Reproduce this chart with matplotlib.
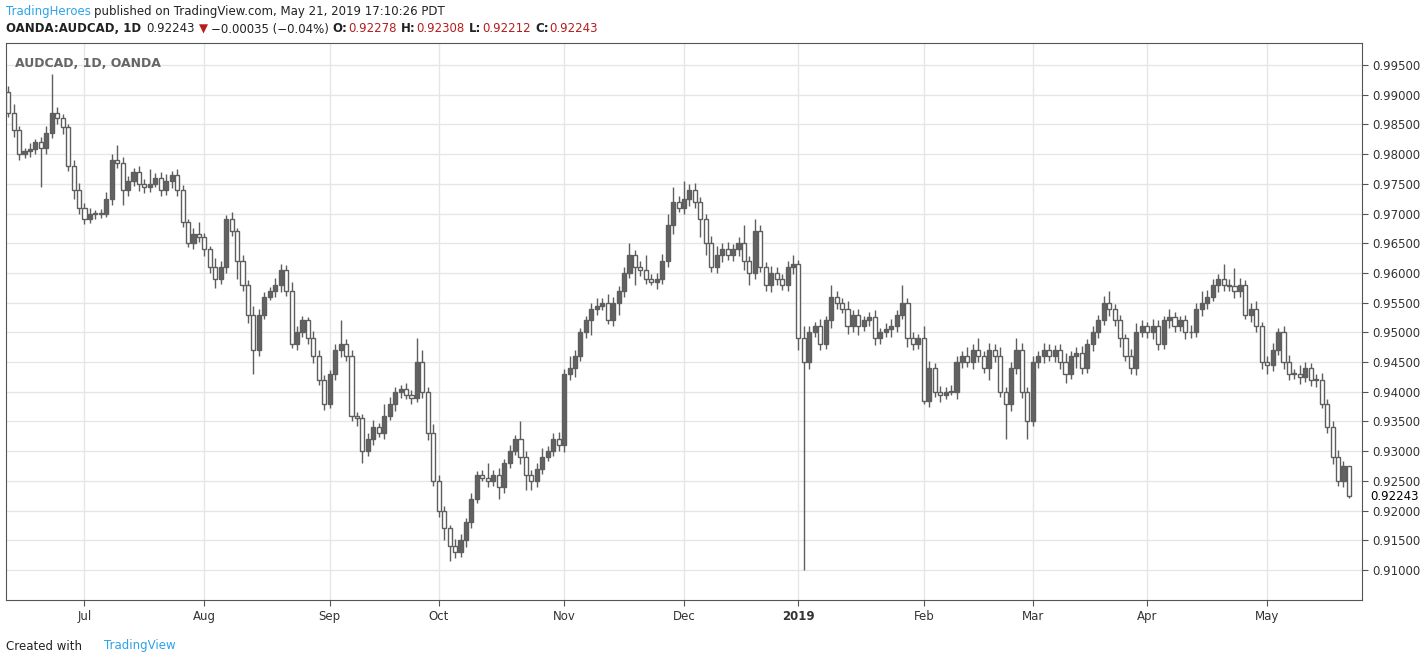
import pandas as pd
import matplotlib.pyplot as plt
import numpy as np

# AUDCAD daily closes (open = previous close)
first_open = 0.9905
closes = [
    0.9870, 0.9840, 0.9800, 0.9805, 0.9808, 0.9820, 0.9810, 0.9835, 0.9870, 0.9860,
    0.9845, 0.9780, 0.9740, 0.9710, 0.9690, 0.9700, 0.9700, 0.9700, 0.9725, 0.9790,
    0.9785, 0.9740, 0.9755, 0.9770, 0.9750, 0.9745, 0.9750, 0.9760, 0.9740, 0.9755,
    0.9765, 0.9740, 0.9685, 0.9650, 0.9665, 0.9660, 0.9640, 0.9610, 0.9590, 0.9610,
    0.9690, 0.9670, 0.9620, 0.9580, 0.9530, 0.9470, 0.9530, 0.9560, 0.9570, 0.9580,
    0.9605, 0.9570, 0.9480, 0.9500, 0.9520, 0.9490, 0.9460, 0.9420, 0.9380, 0.9430,
    0.9470, 0.9480, 0.9460, 0.9360, 0.9355, 0.9300, 0.9320, 0.9340, 0.9330, 0.9360,
    0.9380, 0.9400, 0.9405, 0.9395, 0.9390, 0.9450, 0.9400, 0.9330, 0.9250, 0.9200,
    0.9170, 0.9140, 0.9130, 0.9150, 0.9180, 0.9220, 0.9260, 0.9255, 0.9250, 0.9260,
    0.9240, 0.9280, 0.9300, 0.9320, 0.9290, 0.9260, 0.9250, 0.9270, 0.9290, 0.9300,
    0.9320, 0.9310, 0.9430, 0.9440, 0.9460, 0.9500, 0.9520, 0.9540, 0.9545, 0.9550,
    0.9520, 0.9550, 0.9570, 0.9600, 0.9630, 0.9610, 0.9605, 0.9590, 0.9585, 0.9590,
    0.9620, 0.9680, 0.9720, 0.9710, 0.9725, 0.9740, 0.9720, 0.9690, 0.9650, 0.9610,
    0.9630, 0.9640, 0.9630, 0.9640, 0.9650, 0.9620, 0.9600, 0.9670, 0.9610, 0.9580,
    0.9600, 0.9590, 0.9580, 0.9610, 0.9615, 0.9490, 0.9450, 0.9500, 0.9510, 0.9480,
    0.9520, 0.9560, 0.9550, 0.9540, 0.9510, 0.9530, 0.9510, 0.9520, 0.9525, 0.9490,
    0.9500, 0.9505, 0.9510, 0.9530, 0.9550, 0.9490, 0.9480, 0.9490, 0.9385, 0.9440,
    0.9400, 0.9395, 0.9400, 0.9400, 0.9450, 0.9460, 0.9450, 0.9470, 0.9460, 0.9440,
    0.9470, 0.9460, 0.9400, 0.9380, 0.9440, 0.9470, 0.9400, 0.9350, 0.9450, 0.9460,
    0.9470, 0.9460, 0.9470, 0.9450, 0.9430, 0.9460, 0.9465, 0.9440, 0.9480, 0.9500,
    0.9520, 0.9550, 0.9540, 0.9520, 0.9490, 0.9460, 0.9440, 0.9500, 0.9510, 0.9500,
    0.9510, 0.9480, 0.9520, 0.9525, 0.9510, 0.9520, 0.9500, 0.9500, 0.9540, 0.9550,
    0.9560, 0.9580, 0.9590, 0.9580, 0.9578, 0.9570, 0.9580, 0.9530, 0.9540, 0.9510,
    0.9450, 0.9445, 0.9470, 0.9500, 0.9450, 0.9430, 0.9430, 0.9425, 0.9440, 0.9420,
    0.9420, 0.9380, 0.9340, 0.9290, 0.9250, 0.9275, 0.92243,
]
# wick lengths in pips (0.0001) above the body and below it
wick_up = [
    10, 15, 8, 5, 10, 6, 8, 12, 65, 10, 8, 6, 10, 12, 8, 10, 6, 8, 12, 10,
    25, 10, 8, 6, 10, 8, 25, 8, 10, 12, 6, 10, 8, 6, 10, 20, 8, 6, 15, 10,
    8, 12, 6, 10, 8, 15, 10, 8, 6, 12, 10, 8, 15, 10, 8, 6, 12, 10, 8, 6,
    10, 40, 8, 10, 6, 8, 10, 12, 8, 20, 12, 8, 6, 10, 8, 40, 20, 8, 15, 10,
    8, 6, 12, 10, 8, 10, 6, 8, 25, 8, 12, 6, 10, 8, 30, 10, 8, 10, 15, 8,
    10, 12, 8, 20, 10, 8, 8, 10, 12, 8, 15, 10, 8, 10, 20, 8, 10, 25, 8, 10,
    12, 20, 25, 10, 30, 10, 12, 8, 10, 12, 15, 10, 12, 8, 10, 30, 8, 20, 10, 8,
    12, 10, 8, 10, 15, 6, 20, 10, 8, 12, 8, 20, 10, 8, 12, 8, 10, 8, 10, 12,
    8, 10, 12, 8, 30, 8, 10, 8, 20, 12, 8, 10, 8, 12, 10, 8, 15, 10, 20, 8,
    12, 10, 15, 8, 10, 20, 12, 8, 10, 8, 12, 10, 8, 10, 15, 8, 10, 12, 8, 10,
    10, 12, 20, 8, 10, 8, 12, 15, 10, 8, 12, 10, 8, 15, 10, 8, 10, 12, 10, 20,
    12, 10, 8, 25, 10, 30, 12, 8, 10, 12, 8, 10, 12, 8, 10, 12, 8, 15, 10, 8,
    10, 12, 8, 10, 12, 8, 10,
]
wick_dn = [
    8, 12, 10, 6, 10, 8, 65, 10, 8, 10, 12, 8, 15, 10, 8, 6, 10, 8, 6, 10,
    8, 25, 10, 8, 12, 10, 8, 6, 10, 8, 12, 10, 8, 6, 10, 8, 12, 10, 15, 8,
    10, 8, 30, 10, 15, 40, 10, 8, 6, 10, 12, 8, 6, 10, 8, 10, 12, 8, 10, 8,
    10, 12, 8, 10, 12, 20, 8, 10, 6, 10, 8, 12, 10, 8, 10, 8, 10, 12, 8, 10,
    20, 25, 10, 8, 12, 10, 8, 6, 10, 8, 20, 10, 8, 6, 12, 25, 15, 10, 8, 6,
    8, 10, 12, 10, 15, 8, 10, 25, 10, 8, 6, 10, 20, 10, 8, 30, 10, 8, 6, 12,
    8, 10, 15, 8, 10, 12, 10, 30, 20, 8, 10, 12, 8, 10, 12, 15, 20, 10, 8, 10,
    12, 10, 8, 10, 12, 20, 350, 12, 8, 10, 8, 12, 10, 8, 12, 10, 15, 8, 10, 12,
    10, 8, 12, 10, 8, 15, 10, 8, 6, 10, 8, 12, 8, 6, 12, 10, 8, 12, 10, 8,
    20, 10, 8, 60, 12, 10, 10, 30, 8, 10, 12, 8, 10, 12, 15, 8, 20, 10, 8, 12,
    10, 8, 12, 10, 15, 8, 10, 12, 8, 10, 12, 10, 8, 12, 10, 8, 12, 10, 8, 12,
    10, 8, 12, 10, 8, 12, 10, 8, 12, 10, 12, 15, 10, 8, 12, 10, 8, 12, 8, 10,
    12, 8, 10, 12, 8, 10, 12,
]
month_names = ['Jul', 'Aug', 'Sep', 'Oct', 'Nov', 'Dec', '2019', 'Feb', 'Mar', 'Apr', 'May']
price_ticks = [0.910, 0.915, 0.920, 0.925, 0.930, 0.935, 0.940, 0.945, 0.950,
               0.955, 0.960, 0.965, 0.970, 0.975, 0.980, 0.985, 0.990, 0.995]
last_price = 0.92243
last_high, last_low = 0.92308, 0.92212

n = len(closes)
dates = pd.bdate_range('2018-06-12', periods=n)
opens = [first_open] + closes[:-1]
df = pd.DataFrame({'open': opens, 'close': closes}, index=dates)
body_top = df[['open', 'close']].max(axis=1).to_numpy()
body_bot = df[['open', 'close']].min(axis=1).to_numpy()
highs = body_top + np.array(wick_up[:n]) * 1e-4
lows = body_bot - np.array(wick_dn[:n]) * 1e-4
highs[-1], lows[-1] = last_high, last_low
df['high'] = highs
df['low'] = lows
idx = np.arange(n)

W, H = 1426, 664
fig = plt.figure(figsize=(W / 100, H / 100), dpi=100)
ax = fig.add_axes([6 / W, 1 - 600 / H, (1362 - 6) / W, (600 - 43) / H])

edge = '#5e5e5e'
ax.vlines(idx, df['low'], df['high'], color=edge, lw=1, zorder=2)
up = (df['close'] >= df['open']).to_numpy()
heights = np.clip(body_top - body_bot, 0.00012, None)
ax.bar(idx, heights, bottom=body_bot, width=0.75,
       color=np.where(up, '#626262', 'white'), edgecolor=edge, lw=1, zorder=3)

ax.set_xlim(-0.4, 248.4)
ax.set_ylim(0.90495, 0.9987)

# month ticks at the first bar of each month
month_pos = []
m = df.index.to_period('M')
for k in range(1, n):
    if m[k] != m[k - 1]:
        month_pos.append(k)
ax.set_xticks(month_pos)
ax.set_xticklabels(month_names[:len(month_pos)])
for lab in ax.get_xticklabels():
    if lab.get_text() == '2019':
        lab.set_fontweight('bold')

ax.yaxis.tick_right()
ax.set_yticks(price_ticks)
ax.set_yticklabels([f'{v:.5f}' for v in price_ticks])
ax.grid(True, color='#e6e6e6', lw=1)
ax.set_axisbelow(True)
ax.tick_params(axis='both', labelsize=8.5, colors='#333333', length=4, color='#555555')
for s in ax.spines.values():
    s.set_color('#555555')

ax.annotate(f'{last_price:.5f}', xy=(1, last_price), xycoords=('axes fraction', 'data'),
            xytext=(6, 0), textcoords='offset points', va='center', fontsize=8.5,
            color='black', bbox=dict(boxstyle='square,pad=0.2', fc='white', ec='none'))
ax.text(0.007, 0.975, 'AUDCAD, 1D, OANDA', transform=ax.transAxes, fontsize=9,
        fontweight='bold', color='#666666', va='top')

red = '#b71c1c'
dark = '#222222'
renderer = fig.canvas.get_renderer()

def text_run(x, y, pieces, size=8.5):
    # lay pieces out left to right, measuring each one
    for s, color, weight, gap in pieces:
        t = fig.text(x / W, 1 - y / H, s, va='center', fontsize=size,
                     color=color, fontweight=weight)
        x += t.get_window_extent(renderer).width + gap

text_run(6, 12, [('TradingHeroes', '#2ea2e8', 'normal', 3),
                 ('published on TradingView.com, May 21, 2019 17:10:26 PDT', dark, 'normal', 0)])
text_run(6, 29, [('OANDA:AUDCAD, 1D', dark, 'bold', 5),
                 ('0.92243', dark, 'normal', 4),
                 ('▼', red, 'normal', 3),
                 ('−0.00035 (−0.04%)', dark, 'normal', 4),
                 ('O:', dark, 'bold', 1), ('0.92278', red, 'normal', 4),
                 ('H:', dark, 'bold', 1), ('0.92308', red, 'normal', 4),
                 ('L:', dark, 'bold', 1), ('0.92212', red, 'normal', 4),
                 ('C:', dark, 'bold', 1), ('0.92243', red, 'normal', 0)])
text_run(6, 646, [('Created with', dark, 'normal', 22),
                  ('TradingView', '#2ea2e8', 'normal', 0)])

fig.savefig('out.png', dpi=100)
